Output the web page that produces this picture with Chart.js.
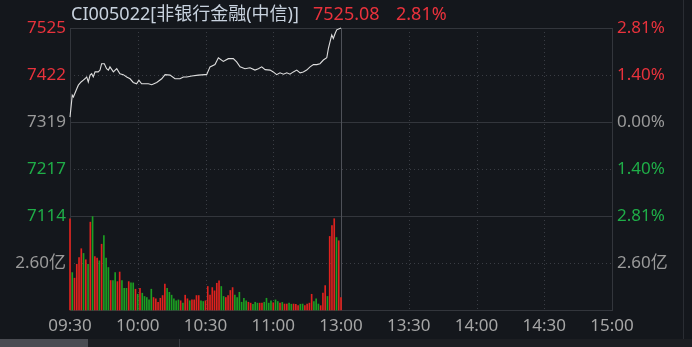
<!DOCTYPE html>
<html><head><meta charset="utf-8">
<script src="https://cdn.jsdelivr.net/npm/chart.js@4.4.1/dist/chart.umd.min.js"></script>
<style>
html,body{margin:0;padding:0;background:#14171c;width:692px;height:347px;overflow:hidden;font-family:'Noto Sans','Noto Sans CJK SC',sans-serif;}
#wrap{position:absolute;left:0;top:0;width:692px;height:339px;}
.t{position:absolute;top:1px;font-size:18px;line-height:24px;white-space:nowrap;}
#sep{position:absolute;left:683px;top:0;width:1px;height:339px;background:#2a2d33;}
#strip{position:absolute;left:0;top:339px;width:692px;height:8px;background:#1c1e22;}
#tab1{position:absolute;left:0;top:339px;width:88px;height:8px;background:#4a4c52;}
#tabsep{position:absolute;left:179px;top:339px;width:1px;height:8px;background:#3a3c42;}
</style></head>
<body>
<div id="wrap"><canvas id="c" width="692" height="339"></canvas></div>
<div class="t" style="left:71px;color:#c8d2de;">CI005022[非银行金融(中信)]</div>
<div class="t" style="left:313px;color:#e8323c;">7525.08</div>
<div class="t" style="left:396px;color:#e8323c;">2.81%</div>
<div id="sep"></div>
<div id="strip"></div><div id="tab1"></div><div id="tabsep"></div>
<script>
const timeLabels = ['09:30','10:00','10:30','11:00','13:00','13:30','14:00','14:30','15:00'];
const timeTickMinutes = [0,30,60,90,120,150,180,210,240];
const preClose = 7319.41;
const pctTicks = [2.81, 1.40, 0, -1.40, -2.81];
const volTickValue = 2.60;
const volMax = 5.20;

const priceMinutes = [0,1,1.5,3,3.7,4.9,5.9,6.6,7.4,8.1,8.9,9.6,10.3,11.1,12.5,13.3,14,15.2,16.2,17,
17.7,19.2,20.7,22.1,23.6,25.1,26.6,28,29.5,30.5,31.7,33.2,34.7,36.2,38.4,40.6,42.1,44.3,46.5,48.7,
50.2,51.7,53.9,56.8,59.8,60.5,62,64.2,65.7,67.9,70.1,72.3,73.8,75.3,77.5,79.7,81.9,83.4,84.9,86.4,
88.6,90,91.5,93,94.5,96,97.4,98.9,100.4,101.9,103.3,104.8,106.3,107.8,109.3,110.7,112.2,113.7,114.4,115.9,
116.6,117.4,118.1,120];
const priceValues = [7330,7378,7374,7392,7400,7407,7411,7414,7418,7407,7422,7425,7418,7429,7429,7433,7447,7447,7436,7433,
7440,7429,7436,7425,7423,7418,7414,7406,7403,7411,7403,7403,7403,7401,7406,7414,7423,7422,7414,7414,
7418,7418,7420,7422,7423,7423,7440,7445,7460,7452,7458,7458,7451,7440,7436,7438,7433,7436,7440,7434,
7433,7429,7423,7427,7424,7427,7424,7429,7433,7427,7429,7433,7440,7445,7445,7447,7455,7460,7480,7510,
7502,7513,7521,7525.08];

const volValues = [5.05,2.07,1.76,2.53,2.90,3.39,3.13,2.78,2.53,4.86,5.17,2.96,2.87,2.72,3.64,4.12,2.87,2.35,1.63,1.63,2.07,1.57,2.10,1.63,1.20,1.20,1.57,1.50,1.50,1.15,
0.87,1.20,0.93,0.75,0.69,0.56,1.15,0.69,0.62,0.43,0.65,0.80,1.43,1.20,0.98,0.82,0.62,0.51,0.56,0.51,0.38,0.82,0.62,0.51,0.56,0.56,0.80,0.80,0.51,0.47,
0.51,1.30,0.82,1.24,1.06,1.48,1.61,1.30,0.75,0.69,0.80,1.08,1.24,0.82,0.69,0.98,0.43,0.65,0.51,0.43,0.38,0.32,0.43,0.38,0.38,0.38,0.43,0.65,0.38,0.51,
0.40,0.56,0.47,0.38,0.42,0.33,0.33,0.38,0.32,0.33,0.32,0.24,0.32,0.33,0.24,0.33,0.38,0.87,0.47,0.62,0.33,0.24,0.93,1.35,0.75,4.07,4.67,5.05,4.01,3.83,0.69];
const volDirection = ('rgrrrrgrgrgrrgrgggrggrrgggrggr' +
 'grgggggrrrrrrggggggrgrrgrrrrgg' +
 'rrrrrrrggrrrrggggggrrgggrrgggg' +
 'rggrgrrggrrrggrrrrgggrrrgrrrgrr').split('');

const RED = '#e8323c', GREEN = '#1fae48', GRAY = '#9a9a9a';
const BAR_RED = '#e0221e', BAR_GREEN = '#1c9e22';
Chart.defaults.font.family = "'Noto Sans','Noto Sans CJK SC',sans-serif";
Chart.defaults.font.size = 17;

const gridPlugin = {
  id: 'gridPlugin',
  beforeDatasetsDraw(chart) {
    const {ctx, chartArea: a, scales} = chart;
    const yP = scales.yPct, yV = scales.yVolR, x = scales.x;
    const px = v => Math.round(v) + 0.5;
    ctx.save();
    ctx.lineWidth = 1;
    ctx.strokeStyle = '#3a3d44';
    ctx.setLineDash([1, 3]);
    const h = y => { ctx.beginPath(); ctx.moveTo(a.left, px(y)); ctx.lineTo(a.right, px(y)); ctx.stroke(); };
    const v = xx => { ctx.beginPath(); ctx.moveTo(px(xx), a.top); ctx.lineTo(px(xx), a.bottom); ctx.stroke(); };
    [1.40, -1.40].forEach(p => h(yP.getPixelForValue(p)));
    h(yV.getPixelForValue(volTickValue));
    timeTickMinutes.slice(1, -1).filter(m => m !== 120).forEach(m => v(x.getPixelForValue(m)));
    ctx.setLineDash([]);
    ctx.strokeStyle = '#33363c';
    h(yP.getPixelForValue(0));
    h(yP.getPixelForValue(-2.81));
    ctx.strokeRect(px(a.left), px(a.top), Math.round(a.right - a.left), Math.round(a.bottom - a.top));
    ctx.strokeStyle = '#4e5158';
    v(x.getPixelForValue(120));
    ctx.restore();
  }
};

const pctColor = p => p > 0 ? RED : (p < 0 ? GREEN : GRAY);

new Chart(document.getElementById('c'), {
  type: 'bar',
  data: {
    datasets: [
      {
        type: 'line',
        data: priceMinutes.map((m, i) => ({x: m, y: priceValues[i]})),
        yAxisID: 'yPrice',
        borderColor: '#dedede',
        borderWidth: 1.1,
        pointRadius: 0,
        tension: 0,
        clip: false
      },
      {
        type: 'bar',
        data: volValues.map((vv, i) => ({x: i, y: vv})),
        yAxisID: 'yVolL',
        backgroundColor: volDirection.map(d => d === 'r' ? BAR_RED : BAR_GREEN),
        barThickness: 1,
        clip: false
      }
    ]
  },
  options: {
    responsive: false,
    animation: false,
    events: [],
    layout: {padding: {top: 28, left: 0, right: 0, bottom: 0}},
    plugins: {legend: {display: false}, tooltip: {enabled: false}},
    scales: {
      x: {
        type: 'linear', min: 0, max: 240, offset: false,
        afterBuildTicks: s => { s.ticks = timeTickMinutes.map(m => ({value: m})); },
        afterFit: s => { s.height = 29; },
        ticks: {callback: (val, i) => timeLabels[i], color: '#a6a6a6', maxRotation: 0, autoSkip: false, padding: 6},
        grid: {display: false, drawTicks: false, offset: false},
        border: {display: false}
      },
      yVolL: {
        type: 'linear', position: 'left', stack: 'L', stackWeight: 1, min: 0, max: volMax,
        afterBuildTicks: s => { s.ticks = [{value: volTickValue}]; },
        afterFit: s => { s.width = 70; },
        ticks: {callback: val => val.toFixed(2) + '亿', color: GRAY, padding: 4},
        grid: {display: false, drawTicks: false},
        border: {display: false}
      },
      yPrice: {
        type: 'linear', position: 'left', stack: 'L', stackWeight: 2,
        min: preClose * (1 - 0.0281), max: preClose * (1 + 0.0281),
        afterBuildTicks: s => { s.ticks = pctTicks.map(p => ({value: preClose * (1 + p / 100)})); },
        afterFit: s => { s.width = 70; },
        ticks: {callback: val => Math.round(val).toString(), color: c => pctColor(pctTicks[c.index]), padding: 4},
        grid: {display: false, drawTicks: false},
        border: {display: false}
      },
      yPct: {
        type: 'linear', position: 'right', stack: 'R', stackWeight: 2, min: -2.81, max: 2.81,
        afterBuildTicks: s => { s.ticks = pctTicks.map(p => ({value: p})); },
        afterFit: s => { s.width = 80; },
        ticks: {callback: val => Math.abs(val).toFixed(2) + '%', color: c => pctColor(pctTicks[c.index]), padding: 5},
        grid: {display: false, drawTicks: false},
        border: {display: false}
      },
      yVolR: {
        type: 'linear', position: 'right', stack: 'R', stackWeight: 1, min: 0, max: volMax,
        afterBuildTicks: s => { s.ticks = [{value: volTickValue}]; },
        afterFit: s => { s.width = 80; },
        ticks: {callback: val => val.toFixed(2) + '亿', color: GRAY, padding: 5},
        grid: {display: false, drawTicks: false},
        border: {display: false}
      }
    }
  },
  plugins: [gridPlugin]
});
</script>
</body></html>
